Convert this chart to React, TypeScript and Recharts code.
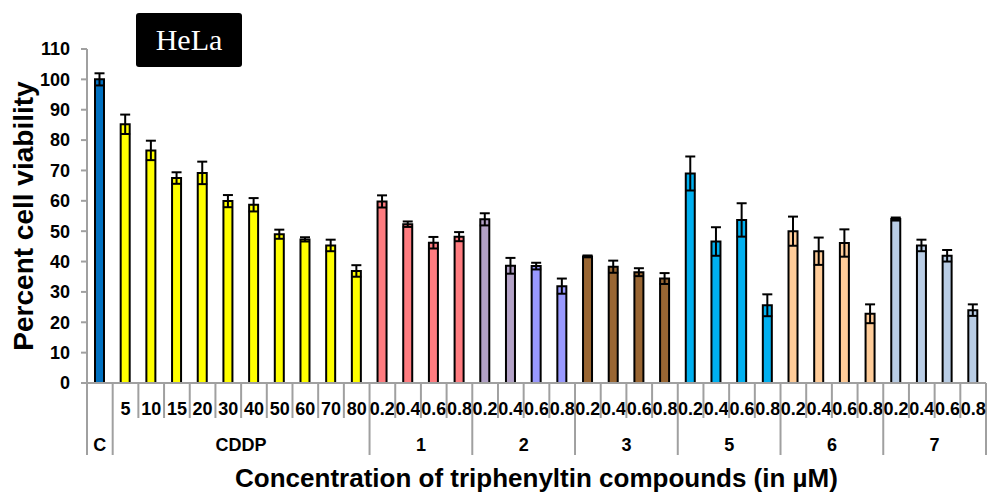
import { BarChart, Bar, XAxis, YAxis, ErrorBar, Cell } from "recharts"

const groupNames = ["C", "CDDP", "1", "2", "3", "5", "6", "7"]

const groupDoses = [
  [""],
  ["5", "10", "15", "20", "30", "40", "50", "60", "70", "80"],
  ["0.2", "0.4", "0.6", "0.8"],
  ["0.2", "0.4", "0.6", "0.8"],
  ["0.2", "0.4", "0.6", "0.8"],
  ["0.2", "0.4", "0.6", "0.8"],
  ["0.2", "0.4", "0.6", "0.8"],
  ["0.2", "0.4", "0.6", "0.8"],
]

// percent viability, one per bar (C, CDDP x10, then 4 per compound)
const viability = [
  100,
  85.2, 76.6, 67.5, 69.2, 59.9, 58.7, 49, 47.3, 45.3, 36.9,
  59.8, 52.3, 46.2, 48.2,
  53.9, 38.6, 38.5, 31.9,
  41.7, 38.3, 36.5, 34.4,
  69, 46.6, 53.7, 25.6,
  50, 43.4, 46.1, 22.8,
  54, 45.3, 41.9, 24,
]

const errors = [
  2,
  3.2, 3.2, 1.9, 3.7, 2, 2.2, 1.5, 0.7, 1.9, 1.9,
  2, 0.9, 1.9, 1.5,
  2, 2.6, 1.1, 2.5,
  0.3, 2, 1.3, 1.8,
  5.6, 4.7, 5.5, 3.6,
  4.8, 4.5, 4.5, 3.1,
  0.5, 1.9, 1.9, 1.9,
]

const yTicks = [0, 10, 20, 30, 40, 50, 60, 70, 80, 90, 100, 110]

const barColors = [
  "#0070C0",
  ...Array(10).fill("#FFFF00"),
  ...Array(4).fill("#FF7C80"),
  "#B3A2C7", "#B3A2C7", "#9999FF", "#9999FF",
  ...Array(4).fill("#996633"),
  ...Array(4).fill("#00B0F0"),
  ...Array(4).fill("#FFCC99"),
  ...Array(4).fill("#B9CDE5"),
]

const rows = groupNames
  .flatMap((group, gi) =>
    groupDoses[gi].map((dose, di) => ({
      group,
      dose,
      first: di === 0,
      size: groupDoses[gi].length,
    }))
  )
  .map((r, i) => ({ ...r, id: `c${i}`, value: viability[i], err: errors[i] }))

const AXIS = "#a0a0a0"
const FONT = "'Liberation Sans', Arial, sans-serif"
const W = 988
const H = 495
const MARGIN = { top: 49, right: 2, bottom: 0, left: 0 }
const Y_W = 87
const X_H = 112

function CategoryTick(props: any) {
  const { x, y, payload } = props
  const i = payload.index ?? props.index
  const row = rows[i]
  const half = payload.offset || (W - MARGIN.left - MARGIN.right - Y_W) / rows.length / 2
  const left = x - half
  const right = x + half
  return (
    <g>
      <line
        x1={left}
        x2={left}
        y1={y}
        y2={y + (row.first ? 72 : 35)}
        stroke={AXIS}
        strokeWidth={2}
      />
      {i === rows.length - 1 && (
        <line x1={right} x2={right} y1={y} y2={y + 72} stroke={AXIS} strokeWidth={2} />
      )}
      <text
        x={x}
        y={y + 32}
        textAnchor="middle"
        fontFamily={FONT}
        fontWeight="bold"
        fontSize={18}
        fill="#000"
      >
        {row.dose}
      </text>
      {row.first && (
        <text
          x={left + row.size * half}
          y={y + 68}
          textAnchor="middle"
          fontFamily={FONT}
          fontWeight="bold"
          fontSize={18}
          fill="#000"
        >
          {row.group}
        </text>
      )}
    </g>
  )
}

export default function App() {
  return (
    <div style={{ position: "relative", width: W, height: H, background: "#fff" }}>
      <style>{"body{margin:0}"}</style>
      <BarChart width={W} height={H} data={rows} margin={MARGIN}>
        <XAxis
          dataKey="id"
          interval={0}
          height={X_H}
          tickSize={0}
          tickMargin={0}
          tickLine={false}
          axisLine={{ stroke: AXIS, strokeWidth: 2 }}
          tick={(p: any) => <CategoryTick {...p} />}
          label={{
            value: "Concentration of triphenyltin compounds (in µM)",
            position: "insideBottom",
            offset: 8,
            style: { fontFamily: FONT, fontWeight: "bold", fontSize: 26, fill: "#000" },
          }}
        />
        <YAxis
          domain={[0, 110]}
          ticks={yTicks}
          interval={0}
          width={Y_W}
          tickSize={6}
          tickMargin={11}
          axisLine={{ stroke: AXIS, strokeWidth: 2 }}
          tickLine={{ stroke: AXIS, strokeWidth: 2 }}
          tick={{ fontFamily: FONT, fontWeight: "bold", fontSize: 18, fill: "#000" }}
          label={{
            value: "Percent cell viability",
            angle: -90,
            position: "insideLeft",
            offset: 23,
            style: {
              textAnchor: "middle",
              fontFamily: FONT,
              fontWeight: "bold",
              fontSize: 28,
              fill: "#000",
            },
          }}
        />
        <Bar
          dataKey="value"
          barSize={9}
          stroke="#000"
          strokeWidth={2}
          isAnimationActive={false}
        >
          {rows.map((r, i) => (
            <Cell key={r.id} fill={barColors[i]} />
          ))}
          <ErrorBar dataKey="err" width={5} stroke="#000" strokeWidth={2} direction="y" />
        </Bar>
      </BarChart>
      <div
        style={{
          position: "absolute",
          left: 136,
          top: 13,
          width: 106,
          height: 54,
          background: "#000",
          borderRadius: 3,
          color: "#fff",
          fontFamily: "'Liberation Serif', 'Times New Roman', serif",
          fontSize: 30,
          lineHeight: "54px",
          textAlign: "center",
        }}
      >
        HeLa
      </div>
    </div>
  )
}
